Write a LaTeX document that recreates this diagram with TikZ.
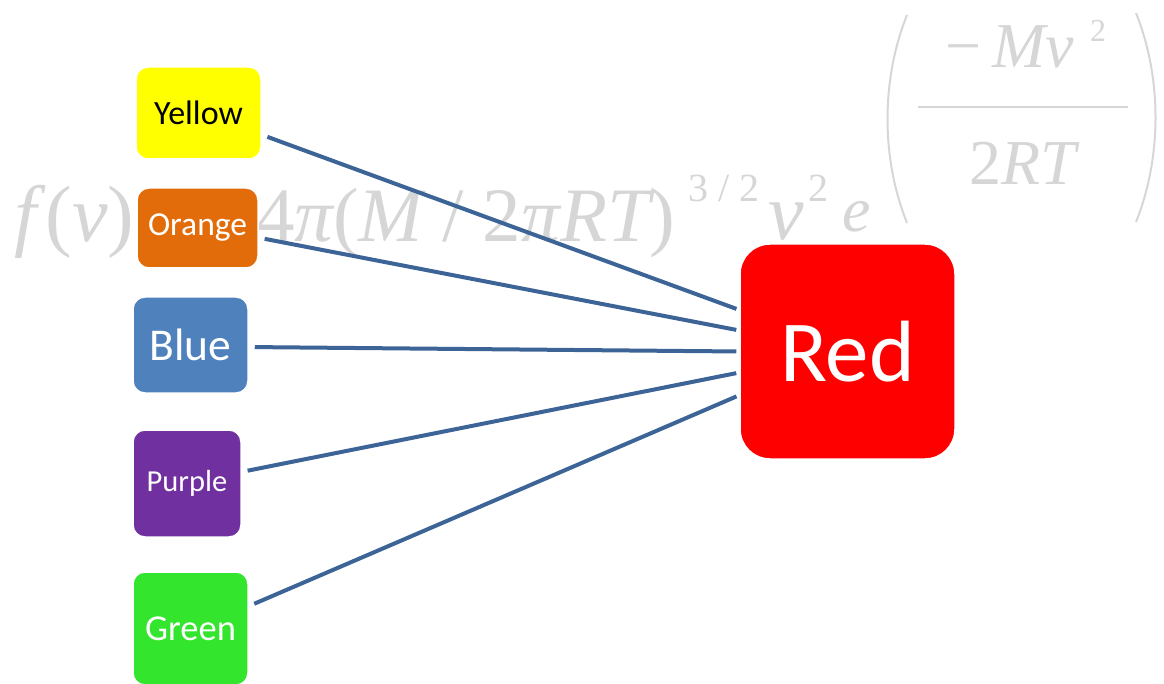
\documentclass[tikz,border=0pt]{standalone}
\usepackage{fontspec}
\setmainfont{Carlito}
\newfontfamily\eqfont{Liberation Serif}
\definecolor{eqgray}{RGB}{214,214,214}
\definecolor{linkblue}{RGB}{60,100,150}
\definecolor{cyellow}{RGB}{255,255,0}
\definecolor{corange}{RGB}{227,108,10}
\definecolor{cblue}{RGB}{79,129,189}
\definecolor{cpurple}{RGB}{112,48,160}
\definecolor{cgreen}{RGB}{51,229,44}
\definecolor{cred}{RGB}{255,0,0}
\tikzset{
  eq/.style={text=eqgray, inner sep=0pt, anchor=base west},
  eqbig/.style={eq, font=\eqfont\fontsize{80}{88}\selectfont},
  eqexp/.style={eq, font=\eqfont\fontsize{64}{70}\selectfont},
  eqsup/.style={eq, font=\eqfont\fontsize{40}{44}\selectfont},
  colorbox/.style={draw=white, line width=1.5pt, rounded corners=12pt, inner sep=0pt},
  link/.style={draw=linkblue, line width=4pt, shorten <=6pt, shorten >=3pt},
}
\begin{document}
\begin{tikzpicture}[x=1pt,y=-1pt]
\useasboundingbox (0,0) rectangle (1164,684);

% Maxwell speed distribution in the background
\node[eqbig] (eqf) at (14,242) {\itshape f\/\upshape(\itshape v\/\upshape)};
\node[eqbig] (eqeq) at (168,242) {=};
\node[eqbig, font=\eqfont\fontsize{77}{84}\selectfont] (eqa) at (256,242)
  {4\itshape π\upshape(\itshape M\upshape{} / 2\itshape πRT\upshape)};
\node[eqsup] (eqb) at (688,202) {3 / 2};
\node[eqbig] (eqv) at (768,240) {\itshape v};
\node[eqsup] (eqc) at (808,202) {2};
\node[eqexp] (eqe) at (842,232) {\itshape e};
\node[eqexp, anchor=base] (eqnum) at (1010,68) {−\,\itshape Mv};
\node[eq, font=\eqfont\fontsize{32}{36}\selectfont] (eqnsup) at (1090,42) {2};
\node[eqexp, anchor=base] (eqden) at (1023,185) {2\itshape RT};
\draw[eqgray, line width=2.5pt] (918,107) -- (1128,107);
\draw[eqgray, line width=2pt] (907,15) .. controls (881,80) and (881,158) .. (907,223);
\draw[eqgray, line width=2pt] (1136,13) .. controls (1162,78) and (1162,157) .. (1136,222);

% colour boxes
\node[colorbox, fill=cyellow, minimum width=125pt, minimum height=92pt,
      font=\fontsize{34}{40}\selectfont, text=black] (Y) at (198.5,113) {Yellow};
\node[colorbox, fill=corange, minimum width=121pt, minimum height=80pt,
      font=\fontsize{33.5}{40}\selectfont, text=white] (O) at (197.5,228) {Orange};
\node[colorbox, fill=cblue, minimum width=115pt, minimum height=96pt,
      font=\fontsize{45.5}{50}\selectfont, text=white] (B) at (190.5,345) {Blue};
\node[colorbox, fill=cpurple, minimum width=108pt, minimum height=107pt,
      font=\fontsize{30.5}{36}\selectfont, text=white] (P) at (187,483.5) {Purple};
\node[colorbox, fill=cgreen, minimum width=115pt, minimum height=113pt,
      font=\fontsize{36.5}{42}\selectfont, text=white] (G) at (190.5,628.5) {Green};
\node[colorbox, fill=cred, rounded corners=30pt, minimum width=215pt, minimum height=215pt,
      font=\fontsize{87}{90}\selectfont, text=white] (R) at (847.5,351.5) {Red};

% connectors
\draw[link] (Y.-19.4) -- (R.159.8);
\draw[link] (O.-9) -- (R.169);
\draw[link] (B.-2) -- (R.180);
\draw[link] (P.12.1) -- (R.191);
\draw[link] (G.21.4) -- (R.202.9);
\end{tikzpicture}
\end{document}
